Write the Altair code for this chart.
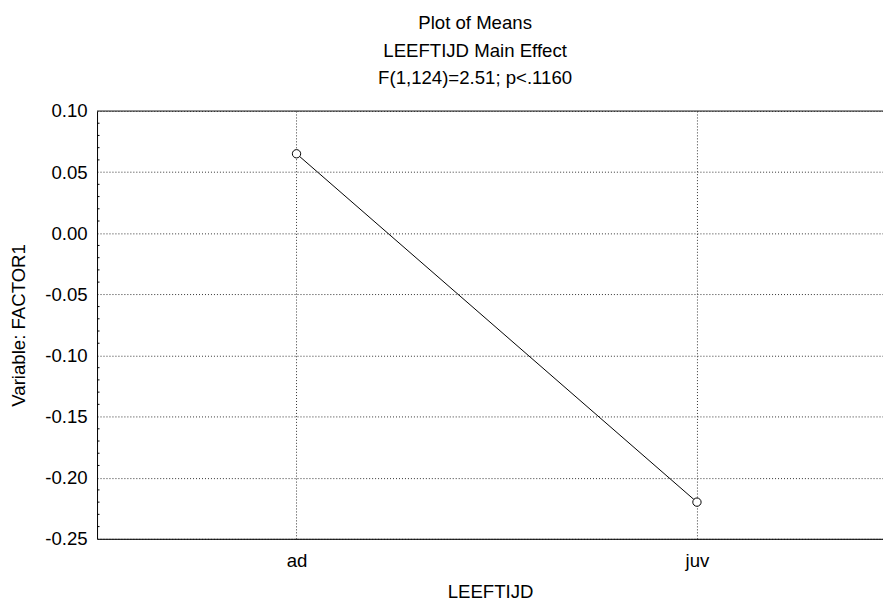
import altair as alt
import pandas as pd

categories = ["ad", "juv"]
means = [0.065, -0.220]
minor_ticks = [0.09, 0.08, 0.07, 0.06, 0.04, 0.03, 0.02, 0.01, -0.01, -0.02, -0.03, -0.04,
               -0.06, -0.07, -0.08, -0.09, -0.11, -0.12, -0.13, -0.14, -0.16, -0.17, -0.18, -0.19,
               -0.21, -0.22, -0.23, -0.24]
major_ticks = [0.10, 0.05, 0.00, -0.05, -0.10, -0.15, -0.20, -0.25]

df = pd.DataFrame({"LEEFTIJD": categories, "mean": means})
df_minor = pd.DataFrame({"v": minor_ticks})

FONT = "Liberation Sans"
FS = 18.7
W, H = 790, 430

xscale = alt.Scale(type="point", domain=categories, padding=0.4814, align=0.5174)
yscale = alt.Scale(domain=[-0.25, 0.10], nice=False, zero=False)

x = alt.X("LEEFTIJD:N", scale=xscale,
          axis=alt.Axis(title="LEEFTIJD", labelAngle=0, ticks=False, tickSize=0, labelPadding=13,
                        titlePadding=12, grid=True, gridDash=[1, 2], gridColor="#333",
                        domainColor="black", labelFont=FONT, titleFont=FONT,
                        labelFontSize=FS, titleFontSize=FS, titleFontWeight="normal",
                        labelColor="black", titleColor="black"))
y = alt.Y("mean:Q", scale=yscale,
          axis=alt.Axis(title="Variable: FACTOR1", values=major_ticks,
                        labelExpr="(datum.value < -0.0001 ? '-' : '') + format(abs(datum.value), '.2f')",
                        ticks=False, tickSize=0, labelPadding=10, titlePadding=16, grid=True,
                        gridDash=[1, 2], gridColor="#333", domainColor="black",
                        labelFont=FONT, titleFont=FONT, labelFontSize=FS, titleFontSize=FS,
                        titleFontWeight="normal", labelColor="black", titleColor="black"))

line = alt.Chart(df).mark_line(color="black", strokeWidth=1).encode(x=x, y=y)
pts = alt.Chart(df).mark_point(shape="circle", filled=True, fill="white", stroke="black",
                               strokeWidth=1, size=70, opacity=1).encode(
    x=alt.X("LEEFTIJD:N", scale=xscale), y=alt.Y("mean:Q", scale=yscale))
minor = alt.Chart(df_minor).mark_rule(color="black", strokeWidth=1).encode(
    y=alt.Y("v:Q", scale=yscale), x=alt.value(0), x2=alt.value(2.5))
frame = alt.Chart(pd.DataFrame({"a": [1]})).mark_rule(color="#222", strokeWidth=1).encode(
    y=alt.value(0), x=alt.value(0), x2=alt.value(W))

chart = alt.layer(line, minor, frame, pts).properties(
    width=W, height=H,
    autosize=alt.AutoSizeParams(type="none"),
    title=alt.TitleParams(
        text=["Plot of Means", "LEEFTIJD Main Effect", "F(1,124)=2.51; p<.1160"],
        font=FONT, fontSize=FS, fontWeight="normal", color="black", lineHeight=28,
        anchor="middle", dx=-15, offset=14),
    padding={"left": 89.5, "top": 102, "right": 0, "bottom": 64},
).configure_view(stroke=None).configure(background="white")

chart.save("out.html", embed_options={"renderer": "svg", "actions": False})
